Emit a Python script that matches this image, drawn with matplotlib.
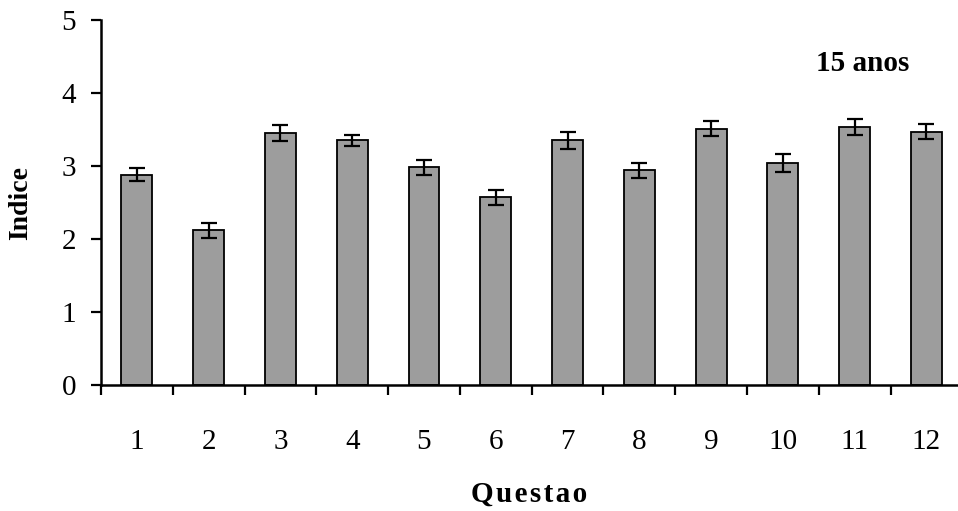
import numpy as np
import matplotlib.pyplot as plt
from matplotlib.ticker import FixedLocator

# dados
questao = [1, 2, 3, 4, 5, 6, 7, 8, 9, 10, 11, 12]
indice = [2.88, 2.12, 3.45, 3.35, 2.98, 2.57, 3.35, 2.94, 3.51, 3.04, 3.53, 3.47]
erro = [0.09, 0.10, 0.11, 0.08, 0.10, 0.10, 0.12, 0.10, 0.10, 0.12, 0.11, 0.10]
y_ticks = [0, 1, 2, 3, 4, 5]

plt.rcParams['font.family'] = ['Liberation Serif', 'DejaVu Serif']

fig = plt.figure(figsize=(9.58, 5.11), dpi=100)
ax = fig.add_axes([101 / 958, 1 - 385 / 511, 1 - 101 / 958, (385 - 20) / 511])

ax.bar(questao, indice, width=0.43, color='#9d9d9d', edgecolor='black',
       linewidth=1.3, zorder=2)
ax.errorbar(questao, indice, yerr=erro, fmt='none', ecolor='black',
            elinewidth=1.6, capsize=6, capthick=1.6, zorder=3)

ax.set_xlim(0.5, 12.44)
ax.set_ylim(0, 5)
ax.set_yticks(y_ticks)
ax.set_xticks(questao)
ax.xaxis.set_minor_locator(FixedLocator(np.arange(0.5, 12.0, 1.0)))

for s in ['top', 'right']:
    ax.spines[s].set_visible(False)
for s in ['left', 'bottom']:
    ax.spines[s].set_linewidth(1.8)

ax.tick_params(axis='y', direction='out', length=7, width=1.6,
               labelsize=21, pad=11)
ax.tick_params(axis='x', which='major', length=0, labelsize=21, pad=32)
ax.tick_params(axis='x', which='minor', direction='out', length=7, width=1.6)

ax.set_ylabel('Indice', fontsize=20, fontweight='bold')
ax.yaxis.set_label_coords(-0.079, 0.5)
ax.set_xlabel('Q u e s t a o'.replace(' ', '\u200a'), fontsize=21,
              fontweight='bold', labelpad=18)
ax.text(0.889, 0.882, '15 anos', transform=ax.transAxes, fontsize=21,
        fontweight='bold', ha='center', va='center')

fig.savefig('out.png', dpi=100)
